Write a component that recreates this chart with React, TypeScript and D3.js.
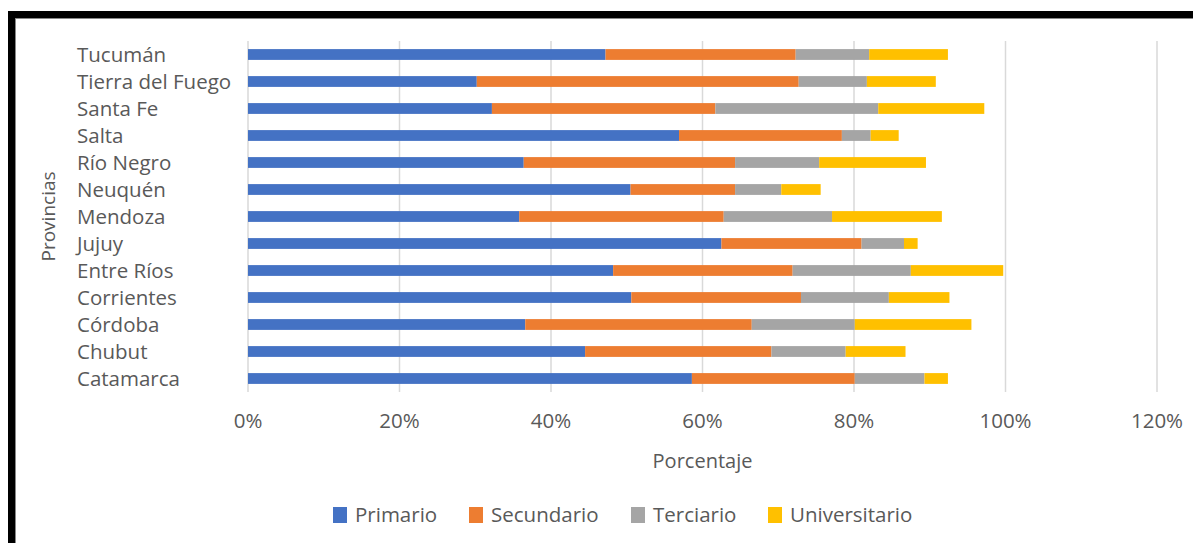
import React from "react";
import * as d3 from "d3";

const provincias = [
  "Tucumán", "Tierra del Fuego", "Santa Fe", "Salta", "Río Negro", "Neuquén",
  "Mendoza", "Jujuy", "Entre Ríos", "Corrientes", "Córdoba", "Chubut", "Catamarca",
];
const primario = [47.2, 30.2, 32.2, 56.9, 36.4, 50.5, 35.8, 62.5, 48.2, 50.6, 36.6, 44.5, 58.6];
const secundario = [25.1, 42.5, 29.5, 21.5, 27.9, 13.8, 27.0, 18.5, 23.7, 22.4, 29.9, 24.6, 21.5];
const terciario = [9.7, 9.0, 21.5, 3.8, 11.1, 6.1, 14.3, 5.6, 15.6, 11.6, 13.6, 9.8, 9.2];
const universitario = [10.4, 9.1, 14.0, 3.7, 14.1, 5.2, 14.5, 1.8, 12.2, 8.0, 15.4, 7.9, 3.1];
const seriesNames = ["Primario", "Secundario", "Terciario", "Universitario"];
const seriesColors = ["#4472C4", "#ED7D31", "#A5A5A5", "#FFC000"];
const xTicks = [0, 20, 40, 60, 80, 100, 120];

const W = 1193;
const H = 543;
const left = 248;
const right = 1157;
const top = 41;
const bottom = 392;

export default function App() {
  const rows = provincias.map((p, i) => ({
    p,
    Primario: primario[i],
    Secundario: secundario[i],
    Terciario: terciario[i],
    Universitario: universitario[i],
  }));
  const stack = d3.stack<any>().keys(seriesNames)(rows);
  const x = d3.scaleLinear().domain([0, 120]).range([left, right]);
  const y = d3.scaleBand().domain(provincias).range([top, bottom]).paddingInner(0.6).paddingOuter(0.3);
  const color = d3.scaleOrdinal<string, string>().domain(seriesNames).range(seriesColors);
  const textColor = "#595959";
  const font = "'Open Sans'";
  const legendX = [333, 469, 631, 768];

  return (
    <svg width={W} height={H} style={{ position: "absolute", left: 0, top: 0, background: "#fff" }}>
      <rect x={0} y={0} width={W} height={H} fill="#fff" />
      {/* frame */}
      <rect x={8} y={11} width={W - 8} height={7} fill="#000" />
      <rect x={8} y={11} width={7} height={H - 11} fill="#000" />
      <line x1={15.5} y1={18} x2={15.5} y2={H} stroke="#888" strokeWidth={1} />
      <line x1={15} y1={18.5} x2={W} y2={18.5} stroke="#888" strokeWidth={1} />
      {/* grid */}
      {xTicks.map((t) => (
        <line key={t} x1={x(t)} x2={x(t)} y1={top} y2={bottom} stroke="#d9d9d9" strokeWidth={1.5} />
      ))}
      {/* bars */}
      {stack.map((s) => (
        <g key={s.key} fill={color(s.key)}>
          {s.map((d, i) => (
            <rect
              key={i}
              x={x(d[0])}
              width={x(d[1]) - x(d[0])}
              y={y(provincias[i])}
              height={y.bandwidth()}
            />
          ))}
        </g>
      ))}
      {/* category labels */}
      {provincias.map((p) => (
        <text
          key={p}
          x={77}
          y={(y(p) as number) + y.bandwidth() / 2}
          dy="0.35em"
          fontFamily={font}
          fontSize={20.5}
          fill={textColor}
        >
          {p}
        </text>
      ))}
      {/* tick labels */}
      {xTicks.map((t) => (
        <text
          key={t}
          x={x(t)}
          y={421}
          dy="0.35em"
          textAnchor="middle"
          fontFamily={font}
          fontSize={20.5}
          fill={textColor}
        >
          {t + "%"}
        </text>
      ))}
      <text
        x={(left + right) / 2}
        y={461}
        dy="0.35em"
        textAnchor="middle"
        fontFamily={font}
        fontSize={20}
        fill={textColor}
      >
        Porcentaje
      </text>
      <text
        transform={`translate(48,${(top + bottom) / 2}) rotate(-90)`}
        dy="0.35em"
        textAnchor="middle"
        fontFamily={font}
        fontSize={19}
        fill={textColor}
      >
        Provincias
      </text>
      {/* legend */}
      {seriesNames.map((s, i) => (
        <g key={s} transform={`translate(${legendX[i]},515)`}>
          <rect x={0} y={-8} width={14} height={16} fill={color(s)} />
          <text x={22} y={0} dy="0.35em" fontFamily={font} fontSize={20.5} fill={textColor}>
            {s}
          </text>
        </g>
      ))}
    </svg>
  );
}
